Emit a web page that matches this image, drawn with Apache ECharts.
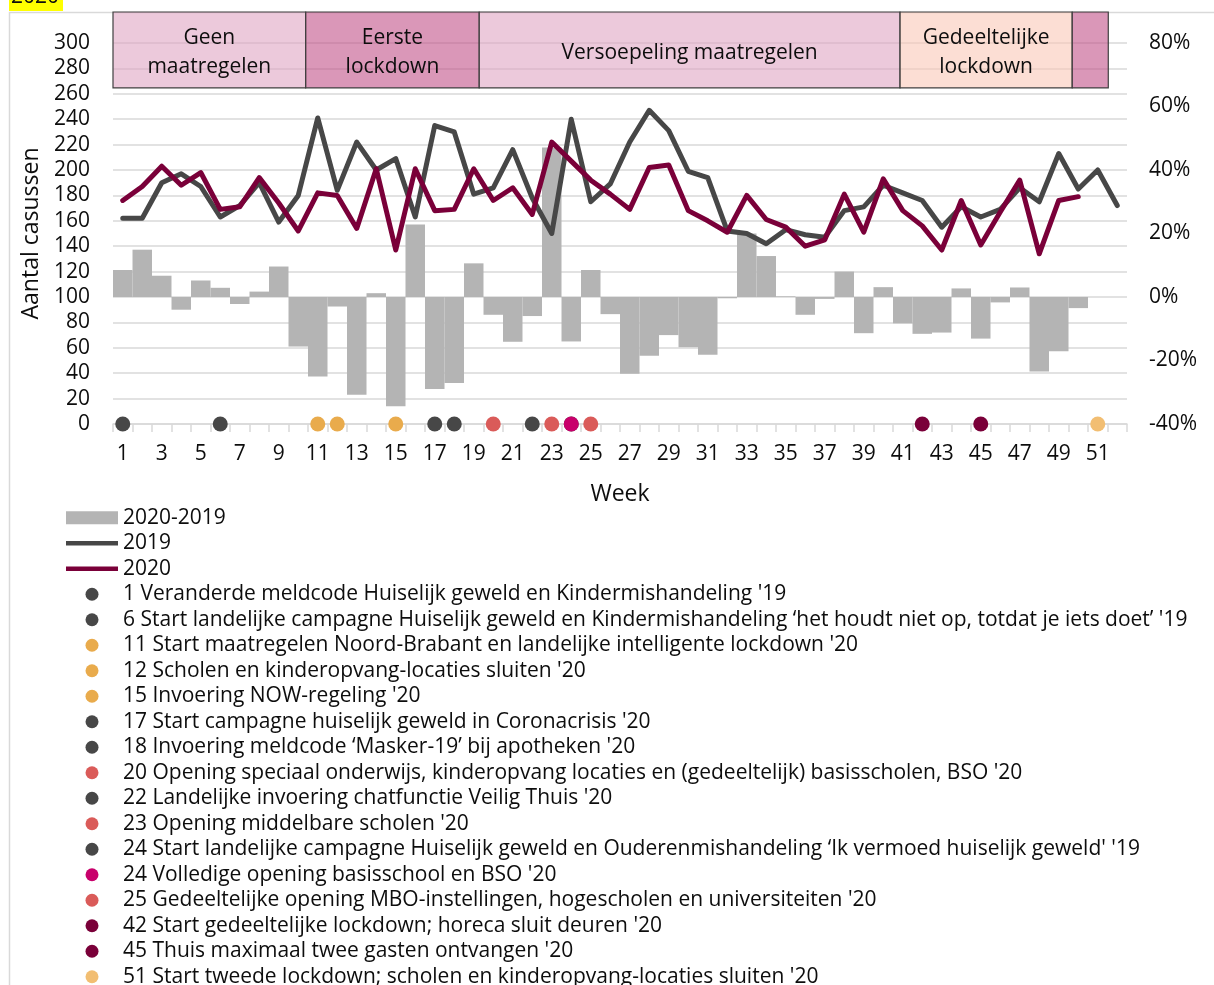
<!DOCTYPE html>
<html>
<head>
<meta charset="utf-8">
<script src="https://cdn.jsdelivr.net/npm/echarts@6/dist/echarts.min.js"></script>
<style>
html,body{margin:0;padding:0;background:#ffffff;}
#chart{width:1214px;height:985px;}
</style>
</head>
<body>
<div id="chart"></div>
<script>
// ---------- data ----------
const weeks = ['1','2','3','4','5','6','7','8','9','10','11','12','13','14','15','16','17','18','19','20',
  '21','22','23','24','25','26','27','28','29','30','31','32','33','34','35','36','37','38','39','40',
  '41','42','43','44','45','46','47','48','49','50','51','52'];

const cases2019 = [162,162,190,197,187,163,172,190,159,180,241,184,222,200,209,163,235,230,181,186,
  216,178,150,240,175,189,222,247,231,199,194,152,150,142,153,149,147,168,171,188,
  182,176,155,171,163,169,186,175,213,185,200,172];

const cases2020 = [176,187,203,188,198,169,171,194,174,152,182,180,154,201,137,201,168,169,201,176,
  186,165,222,207,192,181,169,202,204,168,160,151,180,161,155,140,145,181,151,193,
  168,156,137,176,141,167,192,134,176,179,null,null];

// 2020 vs 2019 in percent
const diffPct = [8.5,14.9,6.7,-4.0,5.2,2.9,-2.2,1.7,9.6,-15.6,-25.0,-3.0,-30.8,1.2,-34.4,22.8,-29.0,-27.1,10.6,-5.6,
  -14.1,-6.0,47.1,-14.0,8.5,-5.4,-24.2,-18.5,-12.0,-15.8,-18.2,-0.4,20.0,12.9,0.2,-5.6,-0.6,8.0,-11.4,3.1,
  -8.3,-11.6,-11.2,2.7,-13.1,-1.7,3.0,-23.5,-17.1,-3.5,null,null];

const leftTicks = {min: 0, max: 300, interval: 20};
const rightTicks = {min: -40, max: 80, interval: 20};

const eventWeeks = ['1','6','11','12','15','17','18','20','22','23','24','24','25','42','45','51'];
const eventLabels = [
  "1 Veranderde meldcode Huiselijk geweld en Kindermishandeling '19",
  "6 Start landelijke campagne Huiselijk geweld en Kindermishandeling \u2018het houdt niet op, totdat je iets doet\u2019 '19",
  "11 Start maatregelen Noord-Brabant en landelijke intelligente lockdown '20",
  "12 Scholen en kinderopvang-locaties sluiten '20",
  "15 Invoering NOW-regeling '20",
  "17 Start campagne huiselijk geweld in Coronacrisis '20",
  "18 Invoering meldcode \u2018Masker-19\u2019 bij apotheken '20",
  "20 Opening speciaal onderwijs, kinderopvang locaties en (gedeeltelijk) basisscholen, BSO '20",
  "22 Landelijke invoering chatfunctie Veilig Thuis '20",
  "23 Opening middelbare scholen '20",
  "24 Start landelijke campagne Huiselijk geweld en Ouderenmishandeling \u2018Ik vermoed huiselijk geweld' '19",
  "24 Volledige opening basisschool en BSO '20",
  "25 Gedeeltelijke opening MBO-instellingen, hogescholen en universiteiten '20",
  "42 Start gedeeltelijke lockdown; horeca sluit deuren '20",
  "45 Thuis maximaal twee gasten ontvangen '20",
  "51 Start tweede lockdown; scholen en kinderopvang-locaties sluiten '20"
];

// phases (boundaries in weeks counted from the left edge of the axis)
const phaseNames = ['Geen\nmaatregelen', 'Eerste\nlockdown', 'Versoepeling maatregelen', 'Gedeeltelijke\nlockdown', ''];
const phaseStart = [0, 9.88, 18.78, 40.36, 49.19];
const phaseEnd = [9.88, 18.78, 40.36, 49.19, 51.04];

// ---------- styles ----------
const FONT = '"Open Sans"';
const FS = 21;
const FS_TITLE = 23;
const TEXT = '#0d0d0d';
const GRID_C = '#d9d9d9';
const C2019 = '#474747';
const C2020 = '#7a0039';
const CBAR = '#b4b4b4';
const eventColors = ['#474747','#474747','#e9ab4c','#e9ab4c','#e9ab4c','#474747','#474747','#da5b59',
  '#474747','#da5b59','#474747','#c8006b','#da5b59','#7a0039','#7a0039','#f2be72'];
const phaseFill = ['rgba(223,165,195,0.6)','rgba(193,82,137,0.6)','rgba(223,165,195,0.6)','rgba(250,200,183,0.6)','rgba(193,82,137,0.6)'];
const PHASE_TOP = 324.4, PHASE_BOTTOM = 264.6;
const LINE_ICON = 'path://M0,0 L56,0 L56,5 L0,5 Z';

const chart = echarts.init(document.getElementById('chart'), null, {renderer: 'canvas'});

const series = [
  {
    name: '2020-2019', type: 'bar', yAxisIndex: 1, data: diffPct,
    barCategoryGap: '0%', barGap: '0%', itemStyle: {color: CBAR}, silent: true, z: 1
  },
  {
    name: '2019', type: 'line', yAxisIndex: 0, data: cases2019, symbol: 'none', silent: true, z: 3,
    itemStyle: {color: C2019}, lineStyle: {color: C2019, width: 5, cap: 'round', join: 'round'}
  },
  {
    name: '2020', type: 'line', yAxisIndex: 0, data: cases2020, symbol: 'none', silent: true, z: 4,
    itemStyle: {color: C2020}, lineStyle: {color: C2020, width: 5, cap: 'round', join: 'round'}
  },
  {
    name: 'fasen', type: 'custom', yAxisIndex: 0, clip: false, silent: true, z: 5,
    data: phaseNames.map((n, i) => [0, 0, phaseStart[i], phaseEnd[i]]),
    encode: {x: 0, y: 1},
    renderItem: function (params, api) {
      const i = params.dataIndex;
      const bw = api.size([1, 0])[0];
      const x0 = api.coord([0, 0])[0] - bw / 2;
      const s = api.value(2), e = api.value(3);
      const yTop = api.coord([0, PHASE_TOP])[1];
      const yBot = api.coord([0, PHASE_BOTTOM])[1];
      return {
        type: 'group',
        children: [
          {type: 'rect', shape: {x: x0 + s * bw, y: yTop, width: (e - s) * bw, height: yBot - yTop},
           style: {fill: phaseFill[i], stroke: '#404040', lineWidth: 1.2}},
          {type: 'text', style: {text: phaseNames[i], x: x0 + (s + e) / 2 * bw, y: (yTop + yBot) / 2 + 3,
           align: 'center', verticalAlign: 'middle', fontFamily: FONT, fontSize: FS, lineHeight: 29, fill: TEXT}}
        ]
      };
    }
  }
];

eventLabels.forEach((lab, i) => {
  series.push({
    name: lab, type: 'scatter', yAxisIndex: 0, data: [[eventWeeks[i], 0]],
    symbol: 'circle', symbolSize: 15, clip: false, silent: true, z: 6,
    itemStyle: {color: eventColors[i], opacity: 1}
  });
});

const legendData = [
  {name: '2020-2019', icon: 'rect'},
  {name: '2019', icon: LINE_ICON},
  {name: '2020', icon: LINE_ICON}
].concat(eventLabels.map(l => ({name: l, icon: 'circle'})));

const option = {
  backgroundColor: '#ffffff',
  animation: false,
  textStyle: {fontFamily: FONT, color: TEXT},
  grid: {left: 113, top: 43, width: 1014, height: 381, containLabel: false, outerBoundsMode: 'none'},
  legend: {
    type: 'plain', orient: 'vertical', left: 66, top: 505, height: 600, padding: 0, itemGap: 0,
    itemWidth: 52, itemHeight: 13, selectedMode: false,
    itemStyle: {borderWidth: 0, opacity: 1},
    textStyle: {fontFamily: FONT, fontSize: FS, color: TEXT, lineHeight: 25.5},
    data: legendData
  },
  xAxis: {
    type: 'category', data: weeks, boundaryGap: true,
    name: 'Week', nameLocation: 'middle', nameGap: 59,
    nameTextStyle: {fontFamily: FONT, fontSize: FS_TITLE, color: TEXT},
    axisLine: {show: true, lineStyle: {color: GRID_C, width: 1.5}},
    axisTick: {show: true, interval: 0, length: 8, lineStyle: {color: GRID_C, width: 1.5}},
    axisLabel: {interval: 1, fontFamily: FONT, fontSize: FS, color: TEXT, margin: 20},
    splitLine: {show: false}
  },
  yAxis: [
    {
      type: 'value', min: leftTicks.min, max: leftTicks.max, interval: leftTicks.interval,
      name: 'Aantal casussen', nameLocation: 'middle', nameGap: 65,
      nameTextStyle: {fontFamily: FONT, fontSize: FS_TITLE, color: TEXT},
      axisLine: {show: false}, axisTick: {show: false},
      axisLabel: {fontFamily: FONT, fontSize: FS, color: TEXT, margin: 23},
      splitLine: {show: true, lineStyle: {color: GRID_C, width: 1.5}}
    },
    {
      type: 'value', position: 'right', min: rightTicks.min, max: rightTicks.max, interval: rightTicks.interval,
      axisLine: {show: false}, axisTick: {show: false},
      axisLabel: {fontFamily: FONT, fontSize: FS, color: TEXT, margin: 22, formatter: '{value}%'},
      splitLine: {show: false}
    }
  ],
  graphic: [
    {type: 'rect', silent: true, z: -10, shape: {x: 9.5, y: 12.5, width: 1220, height: 990},
     style: {fill: 'none', stroke: '#d9d9d9', lineWidth: 1.5}},
    {type: 'rect', silent: true, shape: {x: 9, y: 0, width: 54, height: 11}, style: {fill: '#ffff00'}},
    {type: 'text', silent: true, x: 11, y: -3,
     style: {text: '2020', fontFamily: FONT, fontSize: 21, fill: TEXT, verticalAlign: 'middle', align: 'left'}}
  ],
  series: series
};

chart.setOption(option);
</script>
</body>
</html>
